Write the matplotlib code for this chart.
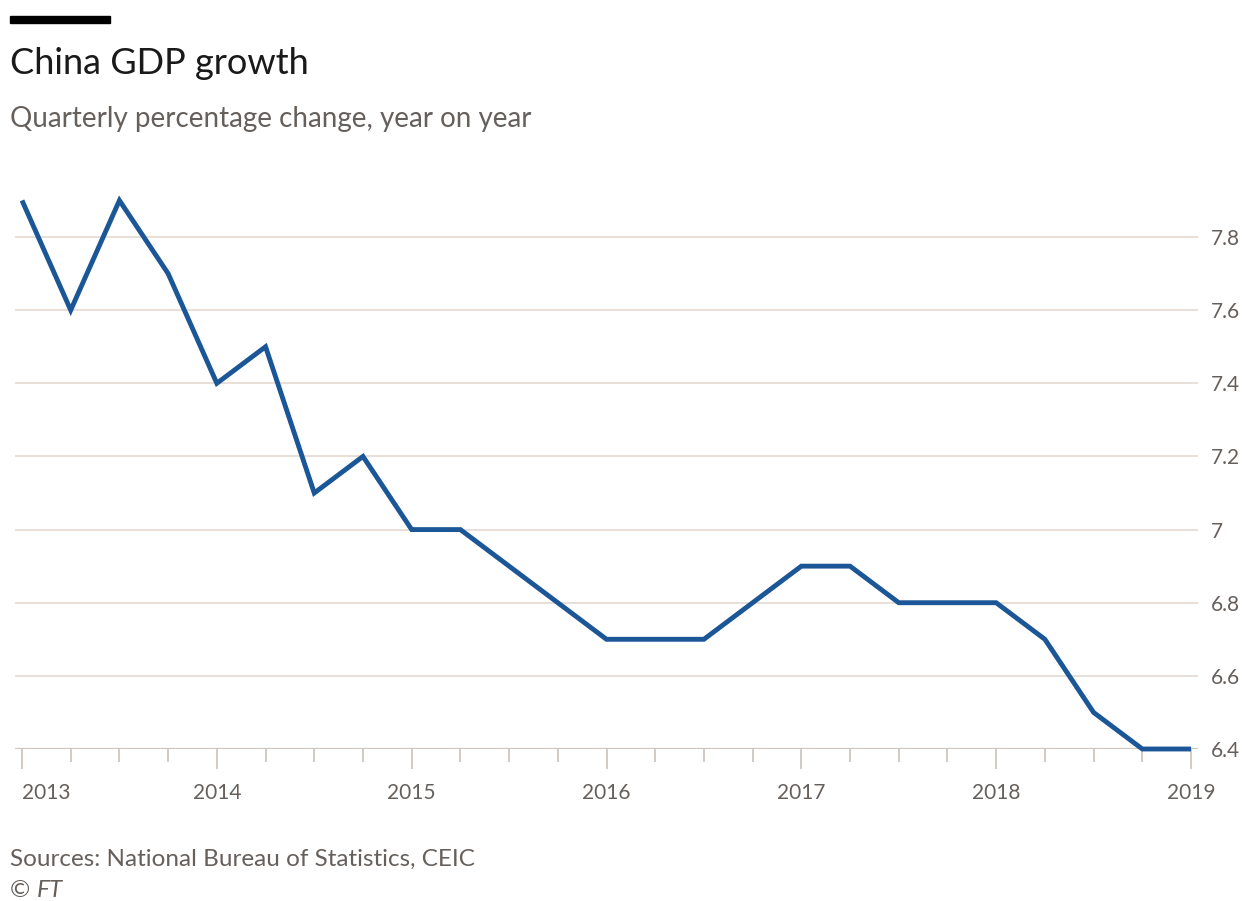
import matplotlib
matplotlib.use("Agg")
import matplotlib.pyplot as plt
from matplotlib.patches import Rectangle
import numpy as np

# Data
start_year = 2013
values = [7.9, 7.6, 7.9, 7.7,
          7.4, 7.5, 7.1, 7.2,
          7.0, 7.0, 6.9, 6.8,
          6.7, 6.7, 6.7, 6.8,
          6.9, 6.9, 6.8, 6.8,
          6.8, 6.7, 6.5, 6.4,
          6.4]
year_ticks = [2013, 2014, 2015, 2016, 2017, 2018, 2019]
y_ticks = [6.4, 6.6, 6.8, 7.0, 7.2, 7.4, 7.6, 7.8]
title = "China GDP growth"
subtitle = "Quarterly percentage change, year on year"
source = "Sources: National Bureau of Statistics, CEIC"

FONT = "Lato"
plt.rcParams['font.family'] = [FONT, 'DejaVu Sans']

W, H = 1243, 901
fig = plt.figure(figsize=(W/100, H/100), dpi=100)
fig.patch.set_facecolor('white')

left_px, right_px = 15, 1198
bottom_px = 749
ymin, ymax = 6.4, 7.93
ppu = 365.7
top_px = bottom_px - (ymax - ymin) * ppu
ax = fig.add_axes([left_px / W, 1 - bottom_px / H, (right_px - left_px) / W, (bottom_px - top_px) / H])

x = start_year + np.arange(len(values)) * 0.25
blue = '#1b5697'
ax.plot(x, values, color=blue, lw=3.5, solid_joinstyle='miter', solid_capstyle='butt',
        zorder=3, clip_on=False)

ax.set_ylim(ymin, ymax)
xpad = 7 / 194.67
ax.set_xlim(year_ticks[0] - xpad, year_ticks[-1] + xpad)

grid_c = '#e8dfd7'
for v in y_ticks[1:]:
    ax.axhline(v, color=grid_c, lw=1.4, zorder=1)
ax.axhline(y_ticks[0], color='#cfc6be', lw=1.6, zorder=2)

for s in ax.spines.values():
    s.set_visible(False)

tick_c = '#cfc6be'
label_c = '#66605c'
ax.yaxis.tick_right()
ax.set_yticks(y_ticks)
ax.set_yticklabels([f"{v:g}" for v in y_ticks])
ax.tick_params(axis='y', length=0, pad=9.5, labelsize=15, labelcolor=label_c)

ax.set_xticks(year_ticks)
ax.set_xticklabels([str(y) for y in year_ticks])
ax.set_xticks(start_year + np.arange(len(values)) * 0.25, minor=True)
ax.tick_params(axis='x', which='major', length=14.5, width=1.3, color=tick_c, pad=10,
               labelsize=15, labelcolor=label_c)
ax.tick_params(axis='x', which='minor', length=9.5, width=1.3, color=tick_c)
ax.get_xticklabels()[0].set_horizontalalignment('left')

# header
fig.patches.append(Rectangle((10 / W, 1 - 23 / H), 100 / W, 7 / H, transform=fig.transFigure,
                             color='black', zorder=5))
fig.text(10 / W, 1 - 74 / H, title, fontsize=26, color='#1a1a1a', va='baseline', ha='left')
fig.text(10 / W, 1 - 127 / H, subtitle, fontsize=20, color='#66605c', va='baseline', ha='left')
fig.text(10 / W, 1 - 866 / H, source, fontsize=17.5, color='#66605c', va='baseline', ha='left')
fig.text(10 / W, 1 - 897 / H, "©", fontsize=17.5, color='#66605c', va='baseline', ha='left')
fig.text(37 / W, 1 - 897 / H, "FT", fontsize=17.5, color='#66605c', va='baseline', ha='left',
         style='italic')

fig.savefig("out.png", dpi=100)
